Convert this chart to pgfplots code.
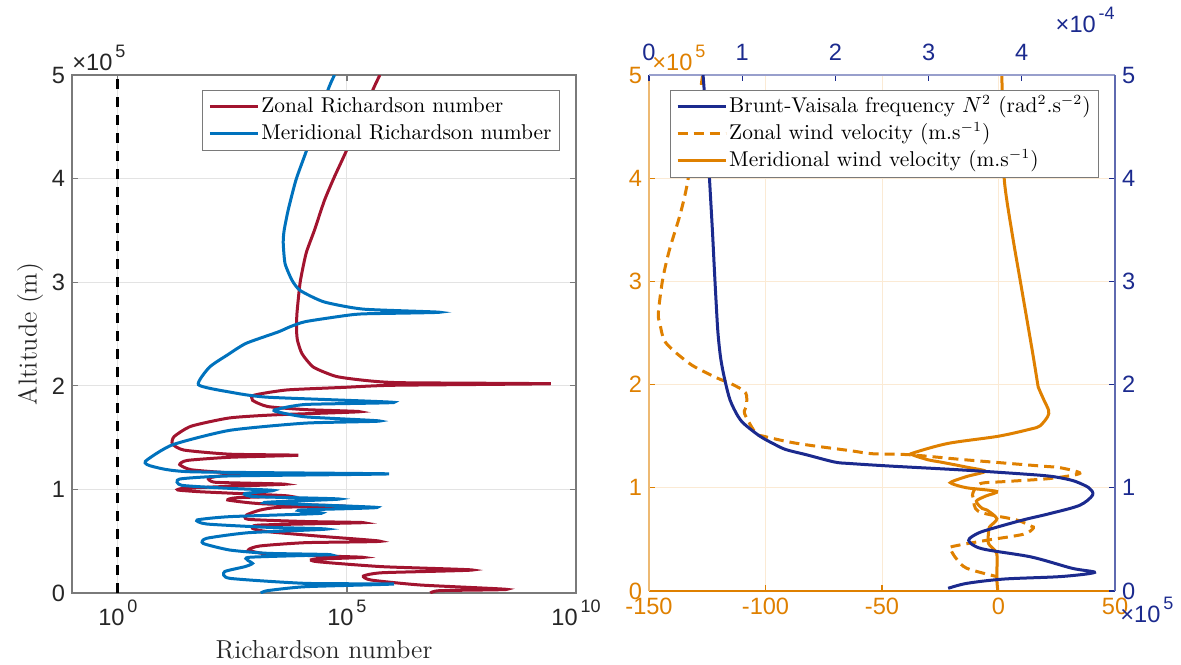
\documentclass[border=0pt]{standalone}
\usepackage{fontspec}
\usepackage{pgfplots}
\usepackage{pgfplotstable}
\pgfplotsset{compat=1.18}
\newfontfamily\tickfont{Liberation Sans}
\definecolor{zred}{HTML}{A2142F}
\definecolor{mblue}{HTML}{0072BD}
\definecolor{worange}{HTML}{DF8000}
\definecolor{nblue}{HTML}{1B2A8E}
\definecolor{gridgray}{HTML}{E3E3E3}
\definecolor{axgray}{HTML}{7A7A7A}
\definecolor{txtgray}{HTML}{262626}
\definecolor{ogrid}{HTML}{FBEAD4}
\newcommand{\tenpow}[1]{10\kern0.12em\raisebox{0.55em}{\fontsize{9}{9}\selectfont #1}}
\newcommand{\xten}[1]{×10\kern0.12em\raisebox{0.55em}{\fontsize{9}{9}\selectfont #1}}
\newcommand{\tickfs}{\tickfont\fontsize{11.8}{13}\selectfont}

% Zonal Richardson number: L = log10(Ri), alt in 1e5 m
\pgfplotstableread{
L alt
5.72 5.00
5.57 4.86
4.98 4.26
4.73 4.02
4.51 3.79
4.29 3.50
4.11 3.28
3.98 3.00
3.91 2.70
3.90 2.55
3.92 2.44
4.02 2.31
4.27 2.18
4.77 2.09
5.44 2.05
6.19 2.03
9.45 2.02
6.00 2.005
4.94 1.985
3.69 1.96
2.98 1.91
2.94 1.86
3.27 1.80
4.10 1.77
5.28 1.75
3.44 1.72
2.44 1.69
1.60 1.61
1.23 1.51
1.19 1.44
1.44 1.38
2.44 1.34
3.94 1.33
2.44 1.31
1.52 1.28
1.35 1.24
1.60 1.19
2.44 1.16
3.27 1.155
2.44 1.14
1.98 1.11
2.10 1.07
2.85 1.06
3.65 1.05
2.44 1.03
1.44 1.01
1.31 0.994
1.77 0.978
2.85 0.956
3.73 0.936
2.60 0.92
2.40 0.898
2.85 0.872
3.27 0.859
4.90 0.84
3.52 0.827
3.10 0.80
2.81 0.753
2.85 0.711
4.10 0.69
5.36 0.679
3.10 0.656
2.94 0.624
3.27 0.592
4.52 0.544
5.73 0.499
4.10 0.486
3.10 0.454
2.85 0.415
3.27 0.376
4.52 0.357
5.36 0.344
4.27 0.325
4.36 0.302
5.78 0.254
7.74 0.222
5.78 0.196
5.36 0.164
5.53 0.125
6.61 0.077
8.49 0.035
7.03 0.023
6.82 0.0
}\zonalRi

% Meridional Richardson number
\pgfplotstableread{
L alt
4.73 5.00
4.59 4.86
4.11 4.26
3.89 3.99
3.72 3.70
3.63 3.50
3.61 3.38
3.65 3.18
3.80 3.02
3.98 2.92
4.50 2.81
5.36 2.74
7.02 2.71
5.40 2.695
5.00 2.68
4.10 2.62
3.76 2.57
3.50 2.52
2.80 2.41
2.40 2.30
2.00 2.18
1.76 2.01
2.44 1.94
3.27 1.89
6.03 1.84
4.10 1.82
3.44 1.77
3.47 1.75
4.10 1.70
5.72 1.66
4.10 1.64
2.44 1.57
1.19 1.43
0.60 1.27
0.77 1.22
1.60 1.17
5.92 1.15
2.44 1.13
1.35 1.10
1.39 1.04
2.44 1.01
3.40 0.99
2.77 0.96
3.00 0.93
4.84 0.907
3.19 0.872
5.66 0.826
3.94 0.80
4.44 0.769
2.44 0.737
1.73 0.705
1.94 0.666
3.27 0.634
4.56 0.617
2.85 0.582
1.94 0.528
1.86 0.479
2.44 0.415
3.27 0.383
4.64 0.370
2.85 0.344
2.94 0.286
2.77 0.254
2.33 0.206
2.44 0.142
4.10 0.093
6.03 0.087
4.10 0.061
3.27 0.023
3.12 0.0
}\meridRi

% Brunt-Vaisala frequency N^2 (1e-4 rad^2 s^-2)
\pgfplotstableread{
n alt
0.58 5.00
0.62 4.50
0.65 3.98
0.68 3.50
0.70 3.14
0.72 2.80
0.74 2.50
0.77 2.25
0.815 2.04
0.87 1.85
0.95 1.70
1.02 1.62
1.19 1.50
1.35 1.42
1.47 1.37
1.69 1.32
1.99 1.25
2.16 1.235
2.60 1.21
3.41 1.17
4.22 1.12
4.45 1.09
4.58 1.06
4.72 1.00
4.76 0.93
4.62 0.83
4.30 0.75
4.02 0.69
3.70 0.61
3.53 0.56
3.43 0.49
3.57 0.41
4.10 0.33
4.54 0.22
4.78 0.18
4.42 0.14
3.81 0.116
3.41 0.074
3.21 0.026
}\bvfreq

% Zonal wind velocity (m/s)
\pgfplotstableread{
u alt
-127 5.00
-127.6 4.90
-130 4.50
-133.3 3.98
-136.5 3.66
-141.3 3.30
-144.2 3.01
-146 2.69
-145.4 2.60
-143.5 2.43
-139 2.32
-131.7 2.19
-125 2.11
-120.4 2.06
-114 2.00
-108.5 1.92
-108.2 1.79
-109 1.72
-104.2 1.53
-100.9 1.50
-86.4 1.43
-63.7 1.36
-54 1.33
-38 1.32
-13.6 1.27
18.7 1.21
26.4 1.195
34.9 1.14
22 1.09
2.5 1.06
-7.9 1.04
-11 0.95
-10.8 0.90
-8.5 0.77
7.5 0.69
13.9 0.63
15 0.61
10.7 0.55
-5.5 0.49
-20 0.43
-20.5 0.40
-18 0.31
-13.6 0.22
-0.8 0.14
}\zonalwind

% Meridional wind velocity (m/s)
\pgfplotstableread{
u alt
1.4 5.00
2.0 4.50
2.5 3.98
5.8 3.47
9.3 3.01
12.2 2.63
14.7 2.30
16.5 2.05
17.0 1.98
19.5 1.85
21.5 1.75
21.1 1.69
17.8 1.60
13.9 1.57
0 1.50
-21.7 1.43
-36.3 1.34
-37 1.32
-30 1.27
-25 1.25
-13.6 1.20
-5.7 1.16
-13.6 1.11
-20 1.06
-20 1.04
-13.6 1.00
-0.8 0.965
-5.5 0.92
-9.5 0.87
-7 0.80
-5.0 0.785
-0.7 0.70
-3.9 0.62
-4.3 0.56
-4.3 0.46
-0.8 0.365
-0.7 0.20
-0.7 0.10
-0.3 0.0
}\meridwind

\begin{document}
\begin{tikzpicture}
\path[use as bounding box] (-36pt,-35.5pt) rectangle (554.5pt,296.5pt);

% ---------------- left panel ----------------
\begin{axis}[
  at={(0pt,0pt)}, anchor=south west, scale only axis,
  width=252pt, height=259pt, clip mode=individual,
  xmode=log, xmin=0.1, xmax=1e10, ymin=0, ymax=5,
  xtick={1,1e5,1e10}, xticklabels={\tenpow{0},\tenpow{5},\tenpow{10}},
  xminorticks=false,
  ytick={0,1,2,3,4,5},
  tick pos=both, xticklabel pos=lower, yticklabel pos=left,
  tick align=inside, major tick length=3pt,
  grid=major, major grid style={gridgray, line width=0.5pt},
  axis line style={axgray, line width=0.6pt},
  tick style={axgray, line width=0.6pt},
  tick label style={font=\tickfs, text=txtgray},
  /pgf/number format/assume math mode=true,
  xlabel={Richardson number}, ylabel={Altitude (m)},
  label style={font=\fontsize{13}{15}\selectfont, text=txtgray},
  xlabel style={at={(axis description cs:0.5,0)}, anchor=base, yshift=-32.5pt},
  ylabel style={at={(axis description cs:-0.07,0.5)}, anchor=base},
  legend style={at={(0.968,0.971)}, anchor=north east, draw=axgray, fill=white,
    font=\fontsize{10.7}{13}\selectfont, inner xsep=3pt, inner ysep=2pt,
    nodes={inner sep=1pt, text height=8pt, text depth=2.5pt}, row sep=1pt},
  legend cell align=left,
  legend image code/.code={\draw[#1] (0pt,0pt) -- (24pt,0pt);},
]
\addplot[zred, line width=1.5pt, smooth, tension=0.35] table[x expr={10^(\thisrow{L})}, y=alt]{\zonalRi};
\addlegendentry{Zonal Richardson number}
\addplot[mblue, line width=1.5pt, smooth, tension=0.35] table[x expr={10^(\thisrow{L})}, y=alt]{\meridRi};
\addlegendentry{Meridional Richardson number}
\addplot[black, line width=1.5pt, dash pattern=on 5pt off 4pt, forget plot] coordinates {(1,0) (1,5)};
\node[anchor=base west, inner sep=0pt, font=\tickfs, text=txtgray, yshift=2.5pt] at (rel axis cs:0,1) {\xten{5}};
\end{axis}

% ---------------- right panel: wind (orange) ----------------
\begin{axis}[
  at={(288.5pt,1pt)}, anchor=south west, scale only axis,
  width=233pt, height=258pt, clip mode=individual,
  xmin=-150, xmax=50, ymin=0, ymax=5,
  axis x line*=bottom, axis y line*=left, axis line style={-},
  x axis line style={worange, line width=0.6pt},
  y axis line style={worange!55, line width=0.6pt},
  xtick={-150,-100,-50,0,50}, ytick={0,1,2,3,4,5},
  tick align=inside, major tick length=3pt,
  tick style={worange, line width=0.6pt},
  grid=major, major grid style={ogrid, line width=0.5pt},
  tick label style={font=\tickfs, text=worange},
  /pgf/number format/assume math mode=true,
]
\addplot[worange, line width=1.5pt, dash pattern=on 5pt off 3pt, smooth, tension=0.5] table[x=u, y=alt]{\zonalwind};
\addplot[worange, line width=1.5pt, smooth, tension=0.5] table[x=u, y=alt]{\meridwind};
\node[anchor=base west, inner sep=0pt, font=\tickfs, text=worange, xshift=1.5pt, yshift=2.5pt] at (rel axis cs:0,1) {\xten{5}};
\end{axis}

% ---------------- right panel: N^2 (navy) ----------------
\begin{axis}[
  at={(288.5pt,1pt)}, anchor=south west, scale only axis,
  width=233pt, height=258pt, clip mode=individual,
  xmin=0, xmax=5, ymin=0, ymax=5,
  axis x line*=top, axis y line*=right, axis line style={-},
  x axis line style={nblue!45, line width=0.6pt},
  y axis line style={nblue!70, line width=0.6pt},
  xtick={0,1,2,3,4}, ytick={0,1,2,3,4,5},
  tick align=inside, major tick length=3pt,
  tick style={nblue, line width=0.6pt},
  tick label style={font=\tickfs, text=nblue},
  xticklabel style={yshift=3.5pt},
  /pgf/number format/assume math mode=true,
  legend style={at={(0.966,0.971)}, anchor=north east, draw=axgray, fill=white,
    font=\fontsize{10.7}{13}\selectfont, inner xsep=3pt, inner ysep=2pt,
    nodes={inner sep=1pt, text height=8pt, text depth=2.5pt}, row sep=1pt},
  legend cell align=left,
  legend image code/.code={\draw[#1] (0pt,0pt) -- (24pt,0pt);},
]
\addplot[nblue, line width=1.5pt, smooth, tension=0.5] table[x=n, y=alt]{\bvfreq};
\addlegendentry{Brunt-Vaisala frequency $N^2$ (rad$^2$.s$^{-2}$)}
\addlegendimage{worange, line width=1.5pt, dash pattern=on 5pt off 3pt}
\addlegendentry{Zonal wind velocity (m.s$^{-1}$)}
\addlegendimage{worange, line width=1.5pt}
\addlegendentry{Meridional wind velocity (m.s$^{-1}$)}
\node[anchor=base east, inner sep=0pt, font=\tickfs, text=nblue, yshift=21.5pt] at (rel axis cs:1,1) {\xten{-4}};
\node[anchor=base west, inner sep=0pt, font=\tickfs, text=nblue, xshift=2.5pt, yshift=-15.5pt] at (rel axis cs:1,0) {\xten{5}};
\end{axis}
\end{tikzpicture}
\end{document}
